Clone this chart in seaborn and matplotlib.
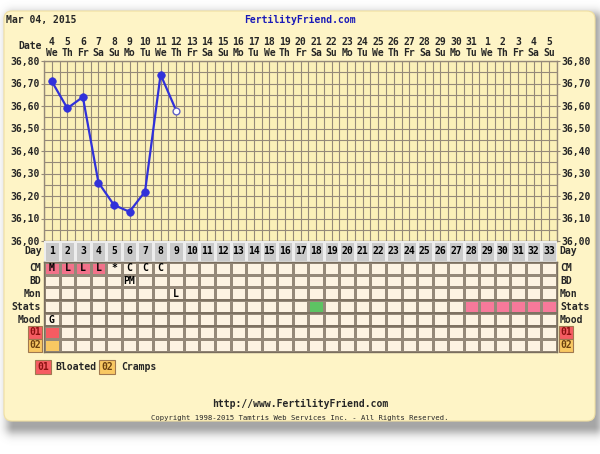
import numpy as np
import pandas as pd
import seaborn as sns
import matplotlib.pyplot as plt
from matplotlib.colors import ListedColormap
from matplotlib.patches import FancyBboxPatch


# chart data
chart_date = "Mar 04, 2015"
days = list(range(1, 34))
date_nums = [4, 5, 6, 7, 8, 9, 10, 11, 12, 13, 14, 15, 16, 17, 18, 19, 20,
             21, 22, 23, 24, 25, 26, 27, 28, 29, 30, 31, 1, 2, 3, 4, 5]
weekdays = ['We', 'Th', 'Fr', 'Sa', 'Su', 'Mo', 'Tu',
            'We', 'Th', 'Fr', 'Sa', 'Su', 'Mo', 'Tu',
            'We', 'Th', 'Fr', 'Sa', 'Su', 'Mo', 'Tu',
            'We', 'Th', 'Fr', 'Sa', 'Su', 'Mo', 'Tu',
            'We', 'Th', 'Fr', 'Sa', 'Su']
temp_days = [1, 2, 3, 4, 5, 6, 7, 8, 9]
temps = [36.71, 36.59, 36.64, 36.26, 36.16, 36.13, 36.22, 36.74, 36.58]
temp_ticks = [36.0, 36.1, 36.2, 36.3, 36.4, 36.5, 36.6, 36.7, 36.8]
temp_labels = ['36,00', '36,10', '36,20', '36,30', '36,40',
               '36,50', '36,60', '36,70', '36,80']

row_names = ['CM', 'BD', 'Mon', 'Stats', 'Mood', '01', '02']
cm_days = [1, 2, 3, 4, 5, 6, 7, 8]
cm_text = ['M', 'L', 'L', 'L', '*', 'C', 'C', 'C']
cm_colored = [1, 2, 3, 4]
bd_days = [6]
bd_text = ['PM']
mon_days = [9]
mon_text = ['L']
mood_days = [1]
mood_text = ['G']
stats_green = [18]
stats_pink = [28, 29, 30, 31, 32, 33]
bloated_days = [1]
cramps_days = [1]
symptoms = ['Bloated', 'Cramps']

W, H = 600, 454


def fx(x):
    return x / W


def fy(y):
    return 1 - y / H


sns.set_style('white')
plt.rcParams['font.family'] = ['DejaVu Sans Mono']
plt.rcParams['font.weight'] = 'bold'
fs = 7.0
grid_c = '#958979'
blue = '#3131DA'

fig = plt.figure(figsize=(6, 4.54), dpi=100)
fig.patch.set_facecolor('white')

# background card with shadow
bg = fig.add_axes([0, 0, 1, 1], zorder=-5)
bg.set_xlim(0, W)
bg.set_ylim(H, 0)
bg.axis('off')
yy, xx = np.mgrid[0:H, 0:W] + 0.5
dx = np.maximum(np.maximum(14 - xx, xx - 594), 0)
dy = np.maximum(np.maximum(20 - yy, yy - 426), 0)
dist = np.hypot(dx, dy)
shadow = np.zeros((H, W, 4))
shadow[..., :3] = 0.42
shadow[..., 3] = 0.6 * np.exp(-(dist / 9.0) ** 2)
bg.imshow(shadow, extent=(0, W, H, 0), zorder=0)
card = FancyBboxPatch((4, 11), 591, 410, boxstyle="round,pad=0,rounding_size=8",
                      fc='#FEF4C6', ec='#F0DFA2', lw=0.8, zorder=1)
bg.add_patch(card)
bg.set_xlim(0, W)
bg.set_ylim(H, 0)

# temperature chart
ax_t = fig.add_axes([fx(44), fy(241), 513 / W, 180 / H])
ax_t.set_facecolor('#FBF0B8')
df = pd.DataFrame({'day': temp_days, 'temp': temps})
sns.lineplot(data=df, x='day', y='temp', ax=ax_t, color=blue, lw=1.6, zorder=3)
sns.scatterplot(data=df.iloc[:-1], x='day', y='temp', ax=ax_t, color=blue,
                edgecolor=blue, s=30, zorder=4)
sns.scatterplot(data=df.iloc[-1:], x='day', y='temp', ax=ax_t, facecolor='white',
                edgecolor='#6060C8', linewidth=1, s=24, zorder=5)
ax_t.set_xlim(0.5, 33.5)
ax_t.set_ylim(36.0, 36.8)
ax_t.set_xticks(days)
ax_t.set_xticklabels([f"{n}\n{w}" for n, w in zip(date_nums, weekdays)])
ax_t.xaxis.tick_top()
ax_t.set_xticks(np.arange(0.5, 34, 1), minor=True)
ax_t.set_yticks(temp_ticks)
ax_t.set_yticklabels(temp_labels)
ax_t.set_yticks(np.arange(36.05, 36.8, 0.1), minor=True)
ax_t.grid(which='both', color=grid_c, lw=0.8)
ax_t.tick_params(axis='x', which='both', length=0, pad=2.5, labelsize=fs)
ax_t.tick_params(axis='y', which='major', left=True, right=True, labelleft=True,
                 labelright=True, length=2, pad=1, labelsize=fs, color=grid_c)
ax_t.tick_params(axis='y', which='minor', length=0)
for t in ax_t.get_xticklabels():
    t.set_linespacing(1.1)
ax_t.set_xlabel('')
ax_t.set_ylabel('')
for s in ax_t.spines.values():
    s.set_color(grid_c)
    s.set_linewidth(1)

# day row
ax_d = fig.add_axes([fx(44), fy(261.7), 513 / W, 20.7 / H])
sns.heatmap(np.array([days]), ax=ax_d, cmap=ListedColormap(['#CACACA']), cbar=False,
            annot=np.array([[str(d) for d in days]]), fmt='', linewidths=0.8,
            linecolor='#EDEDED', xticklabels=False, yticklabels=False,
            annot_kws=dict(fontsize=fs, fontweight='bold', color='black'))
ax_d.text(-0.004, 0.5, 'Day', transform=ax_d.transAxes, ha='right', va='center', fontsize=fs)
ax_d.text(1.004, 0.5, 'Day', transform=ax_d.transAxes, ha='left', va='center', fontsize=fs)

# observation table
codes = np.zeros((len(row_names), len(days)), dtype=int)
notes = np.full((len(row_names), len(days)), '', dtype=object)
for d, t in zip(cm_days, cm_text):
    notes[0, d - 1] = t
for d in cm_colored:
    codes[0, d - 1] = 1
for d, t in zip(bd_days, bd_text):
    notes[1, d - 1] = t
for d, t in zip(mon_days, mon_text):
    notes[2, d - 1] = t
for d in stats_green:
    codes[3, d - 1] = 2
for d in stats_pink:
    codes[3, d - 1] = 3
for d, t in zip(mood_days, mood_text):
    notes[4, d - 1] = t
for d in bloated_days:
    codes[5, d - 1] = 4
for d in cramps_days:
    codes[6, d - 1] = 5

cell_colors = ['#FDF3E2', '#F2728A', '#5DC463', '#F7799A', '#F65C62', '#F9C862']
ax_c = fig.add_axes([fx(44), fy(351.7), 513 / W, 90 / H])
sns.heatmap(codes, ax=ax_c, cmap=ListedColormap(cell_colors), vmin=-0.5, vmax=5.5,
            cbar=False, annot=notes, fmt='', linewidths=0.8, linecolor=grid_c,
            xticklabels=False, yticklabels=False,
            annot_kws=dict(fontsize=fs, fontweight='bold', color='black'))
for r in [3, 4, 5]:
    ax_c.axhline(r, color='#7A6E5E', lw=1.2)
for s in ax_c.spines.values():
    s.set_visible(True)
    s.set_color('#7A6E5E')
    s.set_linewidth(1.0)

box_colors = {'01': ('#F65C62', '#8A1010'), '02': ('#F9C862', '#6A4010')}
for i, name in enumerate(row_names):
    if name in box_colors:
        fc, tc = box_colors[name]
        kw = dict(color=tc, bbox=dict(boxstyle='square,pad=0.15', fc=fc, ec='#A07850', lw=0.8))
    else:
        kw = {}
    ax_c.text(-0.006, i + 0.5, name, transform=ax_c.get_yaxis_transform(),
              ha='right', va='center', fontsize=fs, **kw)
    ax_c.text(1.006, i + 0.5, name, transform=ax_c.get_yaxis_transform(),
              ha='left', va='center', fontsize=fs, **kw)

# header text
fig.text(fx(6), fy(20), chart_date, ha='left', va='center', fontsize=fs)
fig.text(fx(300), fy(20), 'FertilityFriend.com', ha='center', va='center',
         fontsize=fs, color='#1A1AB8')
fig.text(fx(42), fy(46), 'Date', ha='right', va='center', fontsize=fs)

# legend
leg_x = [43, 107]
name_x = [55, 121]
for (code, (fc, tc)), lx, nx, name in zip(box_colors.items(), leg_x, name_x, symptoms):
    bg.text(lx, 367, code, ha='center', va='center', fontsize=fs, color=tc, zorder=3,
            bbox=dict(boxstyle='square,pad=0.2', fc=fc, ec='#A07850', lw=0.8))
    bg.text(nx, 367, name, ha='left', va='center', fontsize=fs, zorder=3)

# footer
bg.text(300, 404, 'http://www.FertilityFriend.com', ha='center', va='center',
        fontsize=fs, zorder=3)
bg.text(300, 418, 'Copyright 1998-2015 Tamtris Web Services Inc. - All Rights Reserved.',
        ha='center', va='center', fontsize=5.2, fontweight='normal', zorder=3)

fig.savefig('out.png', dpi=100, facecolor='white')
